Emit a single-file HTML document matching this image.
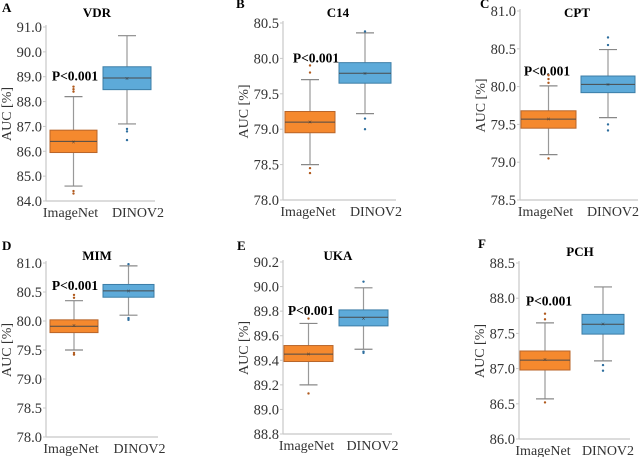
<!DOCTYPE html>
<html><head><meta charset="utf-8">
<style>
html,body{margin:0;padding:0;background:#fff;font-family:'Liberation Serif','Times New Roman',Times,serif;}
svg{display:block;font-family:'Liberation Serif','Times New Roman',Times,serif;}
text{font-family:'Liberation Serif','Times New Roman',Times,serif;}
</style></head>
<body>
<svg id="fig" width="640" height="457" viewBox="0 0 640 457"></svg>
<script>
const categories = ["ImageNet","DINOV2"];
const panelLetters = ["A","B","C","D","E","F"];
const panelTitles = ["VDR","C14","CPT","MIM","UKA","PCH"];
const yTickLabels = [
  ["84.0","85.0","86.0","87.0","88.0","89.0","90.0","91.0"],
  ["78.0","78.5","79.0","79.5","80.0","80.5"],
  ["78.5","79.0","79.5","80.0","80.5","81.0"],
  ["78.0","78.5","79.0","79.5","80.0","80.5","81.0"],
  ["88.8","89.0","89.2","89.4","89.6","89.8","90.0","90.2"],
  ["86.0","86.5","87.0","87.5","88.0","88.5"]
];
// [whiskerLow, Q1, median, Q3, whiskerHigh, mean]
const imagenetStats = [
  [84.6,85.95,86.4,86.85,88.2,86.38],
  [78.5,78.95,79.1,79.25,79.7,79.1],
  [79.1,79.45,79.57,79.68,80.01,79.57],
  [79.5,79.8,79.91,80.02,80.35,79.92],
  [89.2,89.39,89.45,89.52,89.7,89.45],
  [86.57,86.98,87.12,87.25,87.65,87.13]
];
const dinoStats = [
  [87.1,88.48,88.95,89.4,90.65,88.93],
  [79.22,79.65,79.79,79.94,80.36,79.79],
  [79.59,79.92,80.03,80.14,80.49,80.03],
  [80.1,80.41,80.52,80.63,80.95,80.52],
  [89.49,89.68,89.75,89.81,89.99,89.74],
  [87.11,87.49,87.63,87.77,88.16,87.63]
];
const imagenetOutliers = [
  [88.4,88.5,88.6,84.4,84.3],
  [79.8,79.9,78.45,78.38],
  [80.05,80.1,80.15,79.05],
  [80.4,80.45,79.45,79.42],
  [89.74,89.13],
  [87.7,87.78,86.52]
];
const dinoOutliers = [
  [86.9,86.8,86.45],
  [80.38,79.15,79.0],
  [80.55,80.65,79.5,79.42],
  [80.98,80.05,80.02],
  [90.04,89.47,89.46],
  [87.05,86.97]
];
const pLabelValue = [89.0,80.0,80.2,80.6,89.8,87.95];

// layout (not data)
const L = [
  {ax:46,y0:201,y1:27,b1:[50,97],b2:[103,151],right:155,lx:2,ly:12,tx:97,ty:17,px:75,o1:-3,o2:11},
  {ax:283,y0:200,y1:23,b1:[285,335],b2:[339,391],right:396,lx:236,ly:8,tx:338,ty:17,px:316,o1:-2,o2:11},
  {ax:520,y0:200,y1:11,b1:[521,576],b2:[581,635],right:638,lx:480,ly:8,tx:577,ty:17,px:547,o1:-3,o2:5},
  {ax:46,y0:437,y1:263,b1:[50,98],b2:[103,154],right:158,lx:2,ly:250,tx:97,ty:260,px:75,o1:-3,o2:11},
  {ax:283,y0:434,y1:262,b1:[284,333],b2:[339,388],right:392,lx:237,ly:250,tx:338,ty:260,px:311,o1:-2,o2:9},
  {ax:519,y0:439,y1:263,b1:[520,570],b2:[582,624],right:630,lx:478,ly:248,tx:580,ty:256,px:549,o1:-2,o2:5}
];
const NS="http://www.w3.org/2000/svg";
const svg=document.getElementById('fig');
function mk(tag,attrs,parent,text){const e=document.createElementNS(NS,tag);for(const k in attrs)e.setAttribute(k,attrs[k]);if(tag==='text')e.setAttribute('style',"font-family:'Liberation Serif','Times New Roman',Times,serif");if(text!==undefined)e.textContent=text;(parent||svg).appendChild(e);return e;}

for(let p=0;p<6;p++){
  const g=mk('g',{});
  
  
  const l=L[p], ticks=yTickLabels[p];
  const vmin=parseFloat(ticks[0]), vmax=parseFloat(ticks[ticks.length-1]);
  const y=v=>l.y0+(v-vmin)/(vmax-vmin)*(l.y1-l.y0);
  let e=mk('line',{x1:l.ax,y1:l.y1-2,x2:l.ax,y2:l.y0,stroke:'#c8c8c8','stroke-width':1.2},g);
  
  e=mk('line',{x1:l.ax,y1:l.y0,x2:l.right,y2:l.y0,stroke:'#c8c8c8','stroke-width':1.2},g);
  
  ticks.forEach(t=>{
    const yy=y(parseFloat(t));
    mk('line',{x1:l.ax-3,y1:yy,x2:l.ax,y2:yy,stroke:'#c8c8c8'},g);
    const tx=mk('text',{x:l.ax-4,y:yy+5,'text-anchor':'end','font-size':14.5,fill:'#333'},g,t);
    
  });
  const cy=(l.y0+l.y1)/2, yl=l.ax-35;
  e=mk('text',{x:yl,y:cy,transform:`rotate(-90 ${yl} ${cy})`,'text-anchor':'middle','font-size':14,fill:'#333'},g,'AUC [%]');
  
  e=mk('text',{x:l.lx,y:l.ly,'font-size':13,'font-weight':'bold',fill:'#000'},g,panelLetters[p]);
  
  e=mk('text',{x:l.tx,y:l.ty,'text-anchor':'middle','font-size':13,'font-weight':'bold',fill:'#000'},g,panelTitles[p]);
  
  e=mk('text',{x:l.px,y:y(pLabelValue[p])+4,'text-anchor':'middle','font-size':13.5,'font-weight':'bold',fill:'#000'},g,'P<0.001');
  
  const series=[[imagenetStats[p],imagenetOutliers[p],l.b1,'#F5892E','#B8652A','#B05A1E',l.o1],[dinoStats[p],dinoOutliers[p],l.b2,'#5DAAD9','#3C7DA6','#2E6E9E',l.o2]];
  series.forEach((s,i)=>{
    const [st,out,bx,fill,edge,oc,off]=s;
    const cx=(bx[0]+bx[1])/2;
    const bg=mk('g',{},g);
    
    
    mk('line',{x1:cx,y1:y(st[0]),x2:cx,y2:y(st[4]),stroke:'#999','stroke-width':1.2},bg);
    mk('line',{x1:cx-9,y1:y(st[0]),x2:cx+9,y2:y(st[0]),stroke:'#888','stroke-width':1.2},bg);
    mk('line',{x1:cx-9,y1:y(st[4]),x2:cx+9,y2:y(st[4]),stroke:'#888','stroke-width':1.2},bg);
    mk('rect',{x:bx[0],y:y(st[3]),width:bx[1]-bx[0],height:y(st[1])-y(st[3]),fill:fill,stroke:edge,'stroke-width':1},bg);
    mk('line',{x1:bx[0],y1:y(st[2]),x2:bx[1],y2:y(st[2]),stroke:'#4a4a4a','stroke-width':1},bg);
    mk('text',{x:cx,y:y(st[5])+2.5,'text-anchor':'middle','font-size':7,fill:'#333'},bg,'×');
    out.forEach(v=>{mk('circle',{cx:cx,cy:y(v),r:1.2,fill:oc},bg);});
    const xl=mk('text',{x:cx+off,y:l.y0+16,'text-anchor':'middle','font-size':14,fill:'#333'},g,categories[i]);
    
  });
}
</script>
</body></html>
